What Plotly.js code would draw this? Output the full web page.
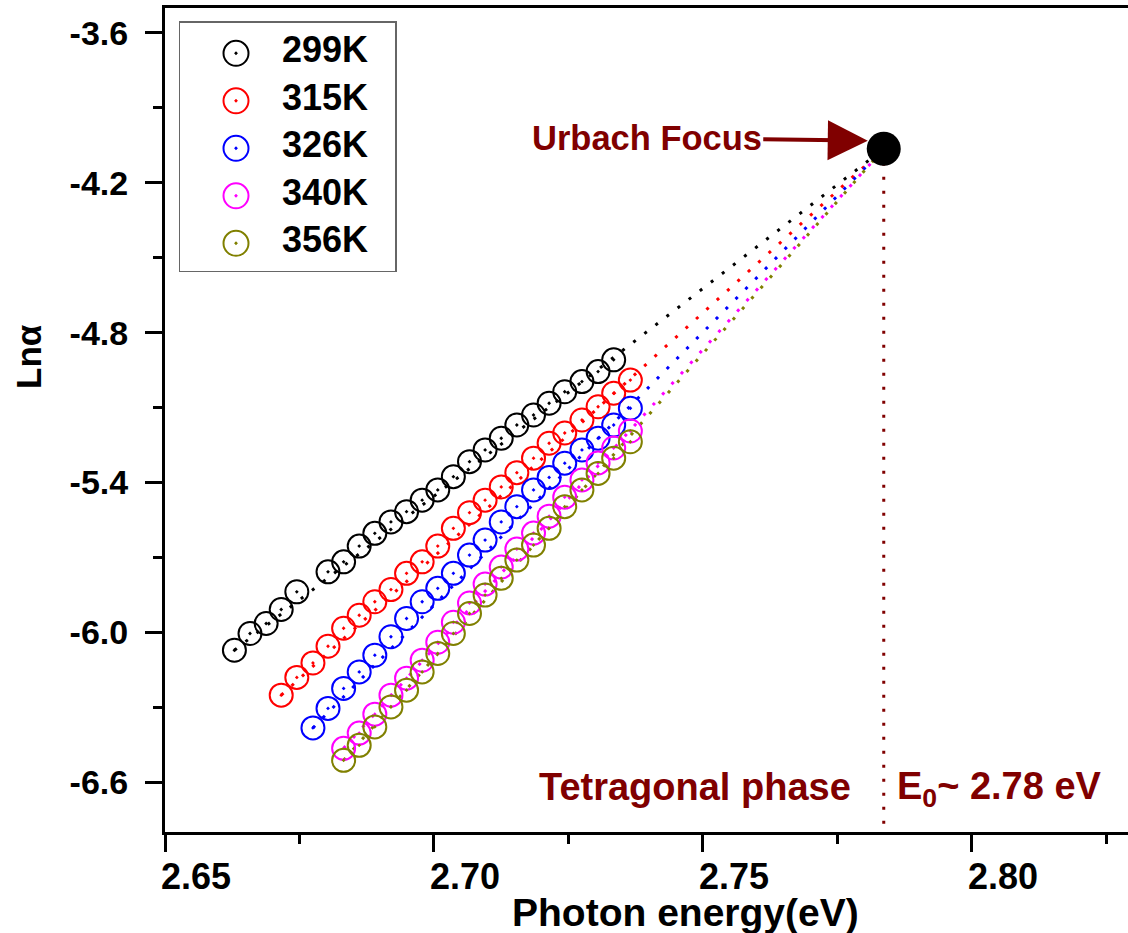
<!DOCTYPE html>
<html>
<head>
<meta charset="utf-8">
<script src="https://cdn.plot.ly/plotly-3.0.1.min.js"></script>
<style>
  html, body { margin: 0; padding: 0; background: #ffffff; }
  #chart { width: 1128px; height: 933px; }
</style>
</head>
<body>
<div id="chart"></div>
<script>
// Urbach plot: ln(alpha) versus photon energy for five temperatures,
// each fitted line extrapolated to the common Urbach focus.

const temperatures = ['299K', '315K', '326K', '340K', '356K'];
const seriesColors = ['#000000', '#ff0000', '#0000ff', '#ff00ff', '#808000'];

const energy299 = [2.6629, 2.6658, 2.6688, 2.6716, 2.6745, 2.6803, 2.6832, 2.6861, 2.6890, 2.6920,
                   2.6949, 2.6978, 2.7007, 2.7036, 2.7066, 2.7095, 2.7125, 2.7154, 2.7185, 2.7214,
                   2.7243, 2.7275, 2.7305, 2.7334];
const lnAlpha299 = [-6.072, -6.005, -5.965, -5.909, -5.838, -5.758, -5.718, -5.655, -5.604, -5.558,
                    -5.517, -5.471, -5.430, -5.377, -5.317, -5.270, -5.223, -5.170, -5.130, -5.083,
                    -5.037, -4.996, -4.956, -4.909];

const energy315 = [2.6716, 2.6745, 2.6775, 2.6803, 2.6832, 2.6861, 2.6890, 2.6920, 2.6949, 2.6978,
                   2.7007, 2.7036, 2.7066, 2.7095, 2.7125, 2.7154, 2.7185, 2.7214, 2.7243, 2.7275,
                   2.7305, 2.7334, 2.7365];
const lnAlpha315 = [-6.252, -6.181, -6.123, -6.056, -5.984, -5.932, -5.878, -5.829, -5.764, -5.718,
                    -5.655, -5.584, -5.521, -5.471, -5.418, -5.361, -5.303, -5.243, -5.202, -5.150,
                    -5.097, -5.043, -4.990];

const energy326 = [2.6775, 2.6803, 2.6832, 2.6861, 2.6890, 2.6920, 2.6949, 2.6978, 2.7007, 2.7036,
                   2.7066, 2.7095, 2.7125, 2.7154, 2.7185, 2.7214, 2.7243, 2.7275, 2.7305, 2.7334,
                   2.7365];
const lnAlpha326 = [-6.383, -6.305, -6.225, -6.159, -6.092, -6.018, -5.945, -5.878, -5.824, -5.764,
                    -5.691, -5.631, -5.558, -5.497, -5.430, -5.380, -5.323, -5.270, -5.223, -5.170,
                    -5.103];

const energy340 = [2.6832, 2.6861, 2.6890, 2.6920, 2.6949, 2.6978, 2.7007, 2.7036, 2.7066, 2.7095,
                   2.7125, 2.7154, 2.7185, 2.7214, 2.7243, 2.7275, 2.7305, 2.7334, 2.7365];
const lnAlpha340 = [-6.465, -6.404, -6.328, -6.252, -6.184, -6.112, -6.040, -5.960, -5.883, -5.807,
                    -5.739, -5.667, -5.603, -5.535, -5.459, -5.390, -5.322, -5.262, -5.194];

const energy356 = [2.6832, 2.6861, 2.6890, 2.6920, 2.6949, 2.6978, 2.7007, 2.7036, 2.7066, 2.7095,
                   2.7125, 2.7154, 2.7185, 2.7214, 2.7243, 2.7275, 2.7305, 2.7334, 2.7365];
const lnAlpha356 = [-6.513, -6.453, -6.379, -6.299, -6.232, -6.159, -6.085, -6.005, -5.925, -5.851,
                    -5.784, -5.711, -5.651, -5.584, -5.497, -5.430, -5.364, -5.303, -5.237];

// Urbach focus (E0, ln alpha0)
const focusEnergy = 2.7836;
const focusLnAlpha = -4.064;

const xTickValues = [2.65, 2.70, 2.75, 2.80];
const xTickLabels = ['2.65', '2.70', '2.75', '2.80'];
const xMinorTicks = [2.675, 2.725, 2.775, 2.825];
const yTickValues = [-3.6, -4.2, -4.8, -5.4, -6.0, -6.6];
const yTickLabels = ['-3.6', '-4.2', '-4.8', '-5.4', '-6.0', '-6.6'];
const yMinorTicks = [-3.9, -4.5, -5.1, -5.7, -6.3];

const energies = [energy299, energy315, energy326, energy340, energy356];
const lnAlphas = [lnAlpha299, lnAlpha315, lnAlpha326, lnAlpha340, lnAlpha356];

const FONT = 'Arial, "Liberation Sans", Helvetica, sans-serif';
const DARK_RED = '#800000';
const DOTS = '3px,11px';

const traces = [];

// extrapolated fit lines, from the first point of each set to the focus
energies.forEach((xs, i) => {
  traces.push({
    type: 'scatter', mode: 'lines', showlegend: false, hoverinfo: 'skip',
    x: [xs[0], focusEnergy], y: [lnAlphas[i][0], focusLnAlpha],
    line: { color: seriesColors[i], width: 3, dash: DOTS }
  });
});

// vertical drop from the focus to the energy axis
traces.push({
  type: 'scatter', mode: 'lines', showlegend: false, hoverinfo: 'skip',
  x: [focusEnergy, focusEnergy], y: [focusLnAlpha, -6.8],
  line: { color: DARK_RED, width: 3, dash: DOTS }
});

// measured points
energies.forEach((xs, i) => {
  traces.push({
    type: 'scatter', mode: 'markers', name: temperatures[i], showlegend: false,
    x: xs, y: lnAlphas[i],
    marker: { symbol: 'circle-open-dot', size: 23, color: seriesColors[i], line: { width: 2, color: seriesColors[i] } }
  });
});

// focus point
traces.push({
  type: 'scatter', mode: 'markers', showlegend: false,
  x: [focusEnergy], y: [focusLnAlpha],
  marker: { symbol: 'circle', size: 34, color: '#000000' }
});

// key panel drawn in its own small axes (coordinates in panel units)
const keyRow0 = 53.3, keyRowGap = 47.5;
temperatures.forEach((t, i) => {
  traces.push({
    type: 'scatter', mode: 'markers', xaxis: 'x2', yaxis: 'y2', showlegend: false, hoverinfo: 'skip',
    x: [236], y: [keyRow0 + i * keyRowGap],
    marker: { symbol: 'circle-open-dot', size: 25, color: seriesColors[i], line: { width: 2, color: seriesColors[i] } }
  });
  traces.push({
    type: 'scatter', mode: 'text', xaxis: 'x2', yaxis: 'y2', showlegend: false, hoverinfo: 'skip',
    x: [282], y: [keyRow0 + i * keyRowGap], text: [t], textposition: 'middle right',
    textfont: { family: FONT, size: 36, color: '#000000', weight: 'bold' }
  });
});

const axisCommon = {
  showline: true, linewidth: 3, linecolor: '#000000',
  ticks: 'outside', ticklen: 17, tickwidth: 3, tickcolor: '#000000',
  showgrid: false, zeroline: false, fixedrange: true
};

const layout = {
  width: 1128, height: 933,
  margin: { l: 165, r: 0, t: 8, b: 101 },
  paper_bgcolor: '#ffffff', plot_bgcolor: '#ffffff',
  showlegend: false,
  font: { family: FONT, color: '#000000' },
  xaxis: Object.assign({}, axisCommon, {
    range: [2.65, 2.829], mirror: true,
    tickmode: 'array', tickvals: xTickValues, ticktext: xTickLabels,
    ticklabelshift: 31, ticklabelstandoff: -6,
    tickfont: { family: FONT, size: 36, weight: 'bold' },
    minor: { tickmode: 'array', tickvals: xMinorTicks, ticks: 'outside', ticklen: 9, tickwidth: 3, tickcolor: '#000000' }
  }),
  yaxis: Object.assign({}, axisCommon, {
    range: [-6.8, -3.5],
    tickmode: 'array', tickvals: yTickValues, ticktext: yTickLabels,
    ticklabelstandoff: 10,
    tickfont: { family: FONT, size: 34, weight: 'bold' },
    minor: { tickmode: 'array', tickvals: yMinorTicks, ticks: 'outside', ticklen: 9, tickwidth: 3, tickcolor: '#000000' }
  }),
  xaxis2: {
    domain: [0.01558, 0.23884], range: [180, 395], anchor: 'y2',
    showline: true, mirror: true, linecolor: '#666666', linewidth: 1.5,
    showticklabels: false, ticks: '', showgrid: false, zeroline: false, fixedrange: true
  },
  yaxis2: {
    domain: [0.6812, 0.9822], range: [270.7, 22.7], anchor: 'x2',
    showline: true, mirror: true, linecolor: '#666666', linewidth: 1.5,
    showticklabels: false, ticks: '', showgrid: false, zeroline: false, fixedrange: true
  },
  annotations: [
    {
      text: 'Photon energy(eV)', xref: 'paper', yref: 'paper',
      x: (685 - 165) / 963, y: (832 - 912) / 824, xanchor: 'center', yanchor: 'middle',
      showarrow: false, font: { family: FONT, size: 39, weight: 'bold', color: '#000000' }
    },
    {
      text: 'Ln\u03b1', xref: 'paper', yref: 'paper', textangle: -90,
      x: (28 - 165) / 963, y: (832 - 357) / 824, xanchor: 'center', yanchor: 'middle',
      showarrow: false, font: { family: FONT, size: 35, weight: 'bold', color: '#000000' }
    },
    {
      text: 'Urbach Focus', xref: 'x', yref: 'y',
      x: focusEnergy, y: -4.032, ax: -237, ay: -3, axref: 'pixel', ayref: 'pixel',
      showarrow: true, arrowhead: 2, arrowsize: 2, arrowwidth: 4, arrowcolor: DARK_RED, standoff: 16,
      font: { family: FONT, size: 34.5, weight: 'bold', color: DARK_RED }
    },
    {
      text: 'Tetragonal phase', xref: 'x', yref: 'y',
      x: 2.7486, y: -6.621, xanchor: 'center', yanchor: 'middle', showarrow: false,
      font: { family: FONT, size: 38, weight: 'bold', color: DARK_RED }
    },
    {
      text: 'E<sub>0</sub>~ 2.78 eV', xref: 'x', yref: 'y',
      x: 2.7857, y: -6.626, xanchor: 'left', yanchor: 'middle', showarrow: false,
      font: { family: FONT, size: 38, weight: 'bold', color: DARK_RED }
    }
  ]
};

Plotly.newPlot('chart', traces, layout, { displayModeBar: false, staticPlot: true });
</script>
</body>
</html>
